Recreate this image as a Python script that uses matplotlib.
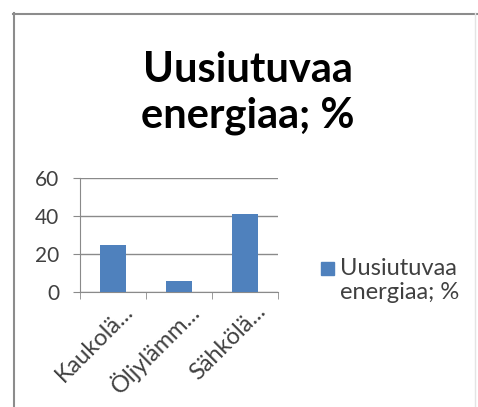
import matplotlib.pyplot as plt
import matplotlib.transforms as mtransforms
from matplotlib.lines import Line2D
from matplotlib.patches import Rectangle

categories = ["Kaukolä...", "Öljylämm...", "Sähkölä..."]
values = [25, 6, 41]
series_name = "Uusiutuvaa energiaa; %"
yticks = [0, 20, 40, 60]

plt.rcParams['font.family'] = ['Lato', 'DejaVu Sans']

W, H = 478, 407
fig = plt.figure(figsize=(W / 100, H / 100), dpi=100)


def fx(px):
    return px / W


def fy(py):
    return 1 - py / H


# chart frame
grey = "#8c8c8c"
fig.add_artist(Line2D([fx(13), fx(478)], [fy(13.5), fy(13.5)], color=grey, lw=1.5))
fig.add_artist(Line2D([fx(13.5), fx(13.5)], [fy(13), fy(407)], color=grey, lw=1.5))
fig.add_artist(Line2D([fx(475), fx(475)], [fy(13), fy(407)], color="#e4e4e4", lw=1))

ax = fig.add_axes([fx(80), fy(292), fx(278) - fx(80), fy(178) - fy(292)])
x = list(range(len(categories)))
ax.bar(x, values, width=0.4, color="#4f81bd", zorder=3)

ax.set_xlim(-0.5, len(categories) - 0.5)
ax.set_ylim(0, 60)
ax.set_yticks(yticks)
ax.set_yticklabels([str(v) for v in yticks], fontsize=15, color="#404040")
ax.yaxis.grid(True, color="#8a8a8a", lw=1)
ax.tick_params(axis="y", length=5, color="#8a8a8a", pad=10)

ax.set_xticks(x)
ax.set_xticklabels(categories, rotation=45, ha="right", va="center",
                   rotation_mode="anchor", fontsize=17, color="#404040")
ax.set_xticks([-0.5, 0.5, 1.5, 2.5], minor=True)
ax.tick_params(axis="x", which="major", length=0, pad=6)
ax.tick_params(axis="x", which="minor", length=5, color="#8a8a8a")
shift = mtransforms.ScaledTranslation(0.17, -0.07, fig.dpi_scale_trans)
for lab in ax.get_xticklabels():
    lab.set_transform(lab.get_transform() + shift)

for s in ["top", "right"]:
    ax.spines[s].set_visible(False)
ax.spines["left"].set_color("#8a8a8a")
ax.spines["bottom"].set_color("#8a8a8a")
ax.set_axisbelow(True)

# title
fig.text(fx(248), fy(93), "Uusiutuvaa\nenergiaa; %", ha="center", va="center",
         fontsize=30, fontweight="bold", color="black", linespacing=1.25)

# legend
fig.add_artist(Rectangle((fx(321), fy(275)), fx(13), fy(0) - fy(13),
                         color="#4f81bd", transform=fig.transFigure))
fig.text(fx(340), fy(258), series_name.replace("a e", "a\ne", 1),
         ha="left", va="top", fontsize=17, color="#404040", linespacing=1.2)

fig.savefig("out.png", dpi=100)
